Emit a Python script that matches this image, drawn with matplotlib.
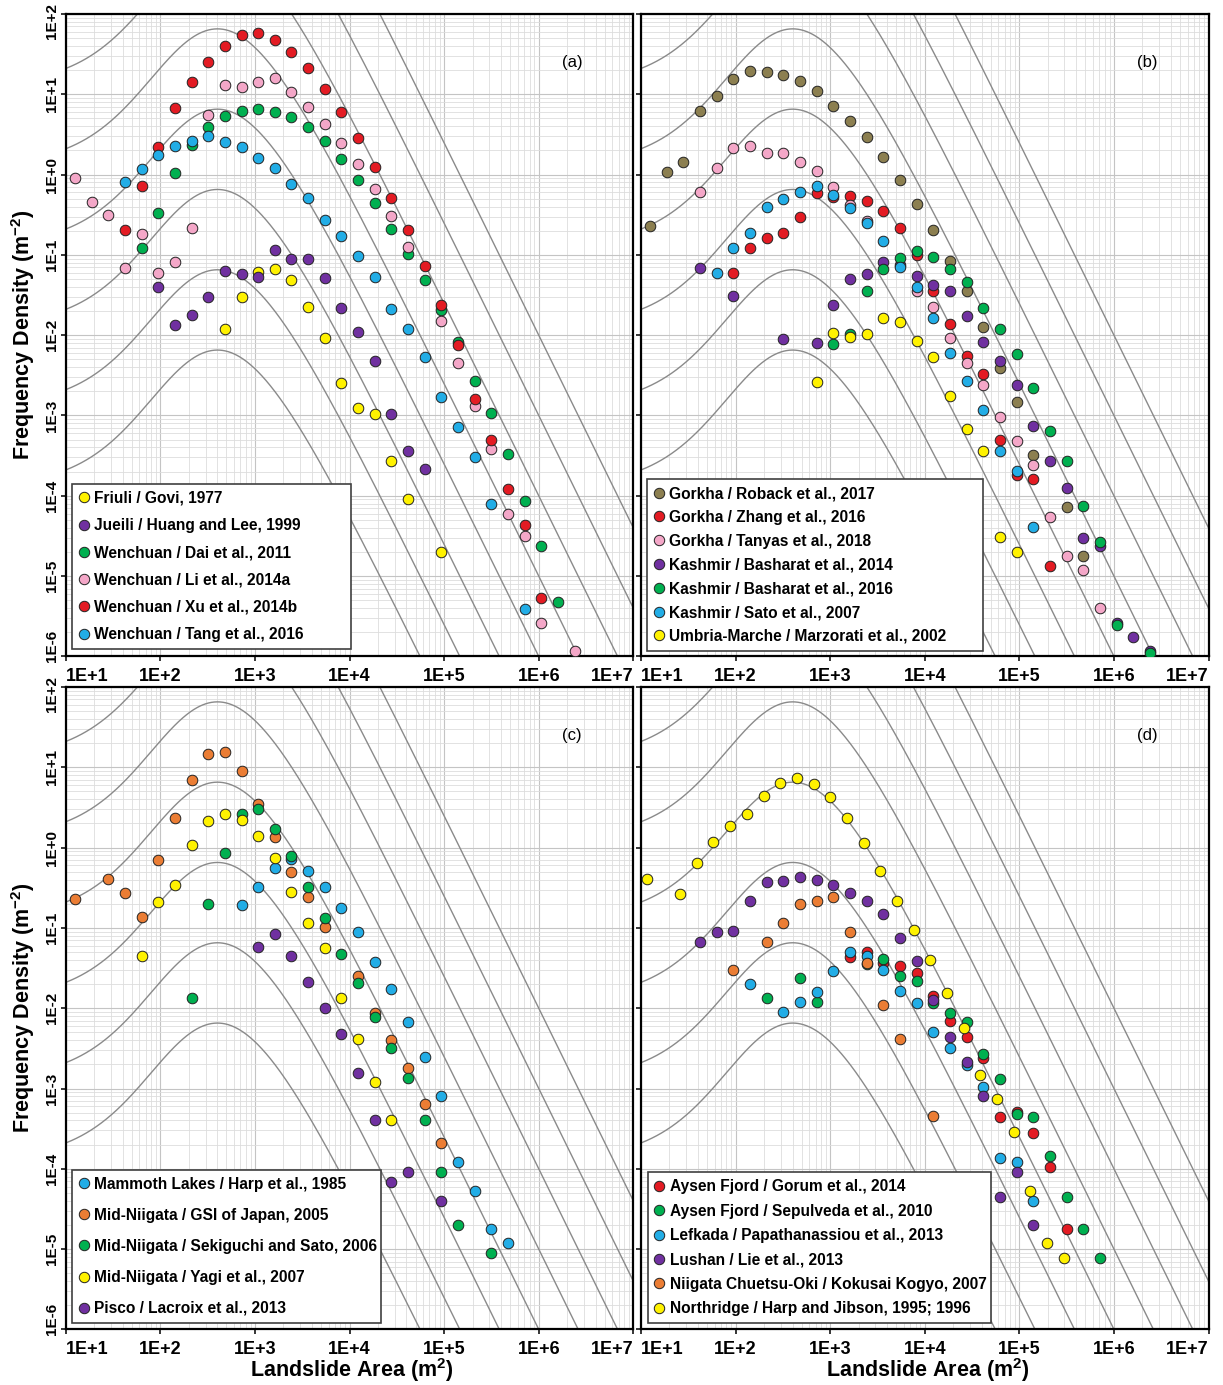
import math
import numpy as np
import matplotlib
matplotlib.use("Agg")
import matplotlib.pyplot as plt
import matplotlib.transforms as mtransforms
from matplotlib.lines import Line2D
from matplotlib.ticker import LogLocator, NullFormatter, FixedLocator

plt.rcParams['font.family'] = ['Liberation Sans', 'DejaVu Sans']

# landslide area bin centres (m2) used by most inventories
BIN_AREA = [12.5, 18.7, 28.1, 42.2, 63.3, 95, 142, 214, 320, 481, 721, 1080, 1620,
            2430, 3650, 5470, 8210, 12300, 18500, 27700, 41600, 62400, 93500,
            140000, 210000, 316000, 473000, 710000, 1065000, 1600000, 2400000]

# ---- (a) ----
friuli_area = BIN_AREA[9:23]
friuli_dens = [0.0119, 0.0297, 0.0607, 0.0667, 0.0486, 0.0226, 0.0093, 0.00252, 0.00123,
               0.00103, 2.7e-4, 9.0e-5, None, 1.98e-5]
jueili_area = BIN_AREA[5:22]
jueili_dens = [0.040, 0.0134, 0.0179, 0.0297, 0.0636, 0.058, 0.0526, 0.115, 0.088, 0.088,
               0.051, 0.022, 0.0111, 0.00482, 0.00103, 3.6e-4, 2.14e-4]
dai_area = BIN_AREA[4:30]
dai_dens = [0.123, 0.33, 1.06, 2.34, 3.95, 5.37, 6.25, 6.6, 5.97, 5.18, 3.95, 2.64, 1.55,
            0.86, 0.44, 0.209, 0.103, 0.048, 0.0206, 0.00817, 0.00271, 0.00106, 3.3e-4,
            8.7e-5, 2.37e-5, 4.8e-6]
li_area = BIN_AREA[0:31]
li_dens = [0.92, 0.46, 0.31, 0.068, 0.18, 0.06, 0.081, 0.214, 5.5, 13, 12.4, 14.4, 15.8,
           10.6, 7.0, 4.27, 2.5, 1.36, 0.656, 0.305, 0.124, None, 0.0152, 0.00455, 0.00132,
           3.8e-4, 5.9e-5, 3.2e-5, 2.63e-6, None, 1.17e-6]
xu_area = BIN_AREA[3:29]
xu_dens = [0.204, 0.73, 2.23, 6.7, 14.1, 25.5, 40, 54.8, 57.5, 47.4, 34, 21.1, 11.6, 6.07,
           2.83, 1.23, 0.51, 0.204, 0.073, 0.0238, 0.00755, 0.00159, 4.95e-4, 1.2e-4,
           4.3e-5, 5.3e-6]
tang_area = BIN_AREA[3:28]
tang_dens = [0.82, 1.17, 1.75, 2.27, 2.64, 3.05, 2.52, 2.23, 1.62, 1.2, 0.76, 0.515, 0.27,
             0.173, 0.097, 0.0526, 0.0212, 0.0119, 0.0053, 0.00171, 7.1e-4, 3.07e-4,
             7.9e-5, None, 3.9e-6]

# ---- (b) ----
roback_area = BIN_AREA[0:27]
roback_dens = [0.229, 1.08, 1.45, 6.2, 9.6, 15.4, 19.3, 19.1, 17.4, 14.7, 10.9, 7.2, 4.69,
               2.96, 1.64, 0.86, 0.427, 0.204, 0.0848, 0.0355, 0.0128, 0.00394, 0.00146,
               3.2e-4, None, 7.2e-5, 1.8e-5]
zhang_area = BIN_AREA[5:25]
zhang_dens = [0.06, 0.121, 0.161, 0.189, 0.3, 0.585, 0.52, 0.54, 0.47, 0.355, 0.214, 0.0998,
              0.0358, 0.0137, 0.0055, 0.00329, 5.0e-4, 1.82e-4, 1.6e-4, 1.34e-5]
tanyas_area = BIN_AREA[3:28]
tanyas_dens = [0.61, 1.2, 2.16, 2.27, 1.84, 1.84, 1.45, 1.12, 0.695, 0.42, 0.267, None, None,
               0.0355, 0.0226, 0.0093, 0.00455, 0.0024, 9.7e-4, 4.85e-4, 2.42e-4, 5.4e-5,
               1.8e-5, 1.19e-5, 3.97e-6]
basharat14_area = BIN_AREA[3:31]
basharat14_dens = [0.069, None, 0.031, None, None, 0.009, None, 0.0079, 0.0238, 0.0497, 0.058,
                   0.081, 0.075, 0.055, 0.042, 0.0355, 0.0175, 0.0083, 0.00482, 0.0024,
                   7.5e-4, 2.7e-4, 1.26e-4, 2.96e-5, 2.37e-5, 2.63e-6, 1.76e-6, 1.18e-6]
basharat16_area = BIN_AREA[11:31]
basharat16_dens = [0.0078, 0.0104, 0.0358, 0.066, 0.092, 0.113, 0.095, 0.066, 0.0464, 0.0216,
                   0.0119, 0.00578, 0.00222, 6.5e-4, 2.7e-4, 7.5e-5, 2.68e-5, 2.46e-6, None,
                   1.09e-6]
sato_area = BIN_AREA[4:24]
sato_dens = [0.06, 0.121, 0.189, 0.398, 0.49, 0.61, 0.72, 0.557, 0.38, 0.252, 0.15, 0.0713,
             0.04, 0.0162, 0.00605, 0.00269, 0.00117, 3.65e-4, 2.06e-4, 4.06e-5]
marzorati_area = BIN_AREA[10:23]
marzorati_dens = [0.00264, 0.0107, 0.0094, 0.0104, 0.0162, 0.0147, 0.0085, 0.0054, 0.00175,
                  6.8e-4, 3.65e-4, 3.04e-5, 1.98e-5]

# ---- (c) ----
harp_area = BIN_AREA[10:27]
harp_dens = [0.193, 0.326, 0.552, 0.72, 0.515, 0.326, 0.179, 0.088, 0.038, 0.0172, 0.0068,
             0.00249, 8.1e-4, 1.2e-4, 5.3e-5, 1.78e-5, 1.18e-5]
gsi_area = BIN_AREA[0:23]
gsi_dens = [0.229, None, 0.406, 0.27, 0.136, 0.70, 2.32, 6.95, 14.5, 15.6, 9.1, 3.46, 1.37,
            0.49, 0.245, 0.102, None, 0.0252, 0.00863, 0.00402, 0.00178, 6.4e-4, 2.11e-4]
sekiguchi_area = BIN_AREA[7:26]
sekiguchi_dens = [0.0133, 0.197, 0.865, 2.6, 3.0, 1.69, 0.785, 0.32, 0.132, 0.0473, 0.0204,
                  0.00783, 0.00316, 0.00136, 4.06e-4, 9.0e-5, 2.0e-5, None, 9.0e-6]
yagi_area = BIN_AREA[4:20]
yagi_dens = [0.0447, 0.212, 0.342, 1.08, 2.14, 2.6, 2.21, 1.39, 0.736, 0.283, 0.114, 0.0557,
             0.0133, 0.00413, 0.00122, 4.06e-4]
lacroix_area = BIN_AREA[11:23]
lacroix_dens = [0.0583, 0.084, 0.0447, 0.0214, 0.00998, 0.00478, 0.00155, 4.06e-4, 6.8e-5,
                9.0e-5, None, 4.0e-5]

# ---- (d) ----
gorum_area = BIN_AREA[12:26]
gorum_dens = [0.0438, 0.0506, 0.0362, 0.0338, 0.0272, 0.0143, 0.00698, 0.00434, 0.00238,
              4.46e-4, 5.1e-4, 2.82e-4, 1.06e-4, 1.78e-5]
sepulveda_area = BIN_AREA[7:28]
sepulveda_dens = [0.0133, None, 0.0236, 0.0119, None, None, 0.0355, 0.041, 0.0252, 0.0218,
                  0.0117, 0.0088, 0.0068, 0.00269, 0.00131, 4.8e-4, 4.4e-4, 1.46e-4, 4.4e-5,
                  1.78e-5, 7.8e-6]
papa_area = BIN_AREA[6:24]
papa_dens = [0.02, None, 0.0089, 0.0119, 0.0158, 0.029, 0.0506, 0.0447, 0.0299, 0.0164,
             0.0115, 0.0051, 0.00322, 0.00196, 0.00103, 1.35e-4, 1.22e-4, 4.0e-5]
lie_area = BIN_AREA[3:24]
lie_dens = [0.0673, 0.0897, 0.0923, 0.216, 0.376, 0.384, 0.434, 0.395, 0.342, 0.274, 0.216,
            0.149, 0.0741, 0.039, 0.0126, 0.00434, 0.00216, 8.1e-4, 4.5e-5, 9.0e-5, 2.0e-5]
kokusai_area = BIN_AREA[5:18]
kokusai_dens = [0.0299, None, 0.0673, 0.116, 0.197, 0.218, 0.24, 0.088, 0.0369, 0.011,
                0.00413, None, 4.6e-4]
northridge_area = [11.5, 25.9, 38.9, 58.4, 87.7, 132, 198, 297, 445, 668, 1000, 1510, 2260,
                   3390, 5090, 7650, 11500, 17200, 25900, 38700, 58200, 87500, 131000,
                   197000, 296000]
northridge_dens = [0.406, 0.264, 0.649, 1.18, 1.87, 2.62, 4.4, 6.3, 7.3, 6.2, 4.3, 2.32, 1.13,
                   0.515, 0.216, 0.094, 0.0398, 0.0153, 0.00562, 0.00147, 7.4e-4, 2.9e-4,
                   5.3e-5, 1.18e-5, 7.7e-6]

X_TICKS = [1e1, 1e2, 1e3, 1e4, 1e5, 1e6, 1e7]
X_LABELS = ['1E+1', '1E+2', '1E+3', '1E+4', '1E+5', '1E+6', '1E+7']
Y_TICKS = [1e-6, 1e-5, 1e-4, 1e-3, 1e-2, 1e-1, 1e0, 1e1, 1e2]
Y_LABELS = ['1E-6', '1E-5', '1E-4', '1E-3', '1E-2', '1E-1', '1E+0', '1E+1', '1E+2']

# inverse-gamma model (Malamud et al., 2004), areas in m2, N_LT = 10 ... 10^8
RHO, A_SCALE, S_SHIFT = 1.4, 1280.0, -132.0
N_TOTAL = [1e1, 1e2, 1e3, 1e4, 1e5, 1e6, 1e7, 1e8]

YELLOW = '#FFF200'
PURPLE = '#7030A0'
GREEN = '#00B050'
PINK = '#F4A7C8'
RED = '#E31B23'
BLUE = '#22ADE6'
OLIVE = '#8C7F50'
ORANGE = '#EB7D34'

panels = [
    ('(a)', [65.8, 14, 633.3, 656.4], 0.786, (0.011, 0.0115, 0.492), [
        ('Friuli / Govi, 1977', YELLOW, friuli_area, friuli_dens),
        ('Jueili / Huang and Lee, 1999', PURPLE, jueili_area, jueili_dens),
        ('Wenchuan / Dai et al., 2011', GREEN, dai_area, dai_dens),
        ('Wenchuan / Li et al., 2014a', PINK, li_area, li_dens),
        ('Wenchuan / Xu et al., 2014b', RED, xu_area, xu_dens),
        ('Wenchuan / Tang et al., 2016', BLUE, tang_area, tang_dens)]),
    ('(b)', [641, 14, 1208.5, 656.4], 0.566, (0.011, 0.0085, 0.592), [
        ('Gorkha / Roback et al., 2017', OLIVE, roback_area, roback_dens),
        ('Gorkha / Zhang et al., 2016', RED, zhang_area, zhang_dens),
        ('Gorkha / Tanyas et al., 2018', PINK, tanyas_area, tanyas_dens),
        ('Kashmir / Basharat et al., 2014', PURPLE, basharat14_area, basharat14_dens),
        ('Kashmir / Basharat et al., 2016', GREEN, basharat16_area, basharat16_dens),
        ('Kashmir / Sato et al., 2007', BLUE, sato_area, sato_dens),
        ('Umbria-Marche / Marzorati et al., 2002', YELLOW, marzorati_area, marzorati_dens)]),
    ('(c)', [65.8, 687, 633.3, 1329.4], 1.03, (0.011, 0.010, 0.545), [
        ('Mammoth Lakes / Harp et al., 1985', BLUE, harp_area, harp_dens),
        ('Mid-Niigata / GSI of Japan, 2005', ORANGE, gsi_area, gsi_dens),
        ('Mid-Niigata / Sekiguchi and Sato, 2006', GREEN, sekiguchi_area, sekiguchi_dens),
        ('Mid-Niigata / Yagi et al., 2007', YELLOW, yagi_area, yagi_dens),
        ('Pisco / Lacroix et al., 2013', PURPLE, lacroix_area, lacroix_dens)]),
    ('(d)', [641, 687, 1208.5, 1329.4], 0.60, (0.012, 0.010, 0.604), [
        ('Aysen Fjord / Gorum et al., 2014', RED, gorum_area, gorum_dens),
        ('Aysen Fjord / Sepulveda et al., 2010', GREEN, sepulveda_area, sepulveda_dens),
        ('Lefkada / Papathanassiou et al., 2013', BLUE, papa_area, papa_dens),
        ('Lushan / Lie et al., 2013', PURPLE, lie_area, lie_dens),
        ('Niigata Chuetsu-Oki / Kokusai Kogyo, 2007', ORANGE, kokusai_area, kokusai_dens),
        ('Northridge / Harp and Jibson, 1995; 1996', YELLOW, northridge_area, northridge_dens)]),
]

W, H = 1223, 1385
fig = plt.figure(figsize=(W / 100, H / 100), dpi=100)


def inverse_gamma(area, n):
    t = A_SCALE / (area - S_SHIFT)
    return n / (A_SCALE * math.gamma(RHO)) * t ** (RHO + 1) * np.exp(-t)


curve_x = np.logspace(1, 7, 800)

for i, (letter, box, spacing, leg_box, series) in enumerate(panels):
    x0, y0, x1, y1 = box
    ax = fig.add_axes([x0 / W, 1 - y1 / H, (x1 - x0) / W, (y1 - y0) / H])
    ax.set_xscale('log')
    ax.set_yscale('log')
    ax.set_xlim(1e1, 1e7)
    ax.set_ylim(1e-6, 1e2)

    # grid
    ax.xaxis.set_major_locator(FixedLocator(X_TICKS))
    ax.yaxis.set_major_locator(FixedLocator(Y_TICKS))
    ax.xaxis.set_minor_locator(LogLocator(base=10, subs=np.arange(2, 10), numticks=20))
    ax.yaxis.set_minor_locator(LogLocator(base=10, subs=np.arange(2, 10), numticks=20))
    ax.xaxis.set_minor_formatter(NullFormatter())
    ax.yaxis.set_minor_formatter(NullFormatter())
    ax.grid(which='major', color='#c4c4c4', lw=0.8, zorder=0)
    ax.grid(which='minor', color='#dddddd', lw=0.6, zorder=0)
    ax.set_axisbelow(True)
    ax.tick_params(which='major', direction='out', length=3.6, width=1.1,
                   labelbottom=False, labelleft=False)
    ax.tick_params(which='minor', length=0)
    for sp in ax.spines.values():
        sp.set_linewidth(1.6)

    # model curves
    for n in N_TOTAL:
        ax.plot(curve_x, inverse_gamma(curve_x, n), color='#8a8a8a', lw=1.0, zorder=1)

    handles, labels = [], []
    for label, color, area, dens in series:
        ax.scatter(area, np.array(dens, dtype=float), s=58, c=color,
                   edgecolors='#222222', linewidths=0.7, zorder=3)
        handles.append(Line2D([], [], ls='', marker='o', markersize=7.5, mfc=color,
                              mec='#222222', mew=0.7))
        labels.append(label)

    leg = ax.legend(handles, labels, loc='lower left',
                    bbox_to_anchor=(leg_box[0], leg_box[1], leg_box[2], 0),
                    mode='expand', borderaxespad=0, fancybox=False, framealpha=1,
                    edgecolor='#404040', labelspacing=spacing, handlelength=0.6,
                    handletextpad=0.35, borderpad=0.45,
                    prop={'family': 'Liberation Sans', 'weight': 'bold', 'size': 11.2})
    leg.get_frame().set_linewidth(1.2)
    leg.set_zorder(5)

    ax.text(0.892, 0.924, letter, transform=ax.transAxes, ha='center', va='center',
            fontsize=12)

    # tick labels
    xt = ax.get_xaxis_transform()
    for j, (v, s) in enumerate(zip(X_TICKS, X_LABELS)):
        ha = 'left' if j == 0 else ('right' if j == len(X_TICKS) - 1 else 'center')
        off = mtransforms.ScaledTranslation(0, -0.12, fig.dpi_scale_trans)
        ax.text(v, 0, s, transform=xt + off, ha=ha, va='top', fontsize=13,
                fontweight='bold')
    if i % 2 == 0:
        yt = ax.get_yaxis_transform()
        for j, (v, s) in enumerate(zip(Y_TICKS, Y_LABELS)):
            dy = 0.10 if j == 0 else (-0.07 if j == len(Y_TICKS) - 1 else 0)
            off = mtransforms.ScaledTranslation(-0.065, dy, fig.dpi_scale_trans)
            ax.text(0, v, s, transform=yt + off, ha='right', va='center', rotation=90,
                    fontsize=11, fontweight='bold')

ylab = 'Frequency Density (m$\\mathregular{^{-2}}$)'
fig.text(0.0188, 1 - 335 / H, ylab, rotation=90, ha='center', va='center',
         fontsize=15.5, fontweight='bold')
fig.text(0.0188, 1 - 1008 / H, ylab, rotation=90, ha='center', va='center',
         fontsize=15.5, fontweight='bold')
xlab = 'Landslide Area (m$\\mathregular{^{2}}$)'
fig.text(352 / W, 1 - 1370 / H, xlab, ha='center', va='center', fontsize=15.5,
         fontweight='bold')
fig.text(928 / W, 1 - 1370 / H, xlab, ha='center', va='center', fontsize=15.5,
         fontweight='bold')

fig.savefig('out.png', dpi=100, facecolor='white')
